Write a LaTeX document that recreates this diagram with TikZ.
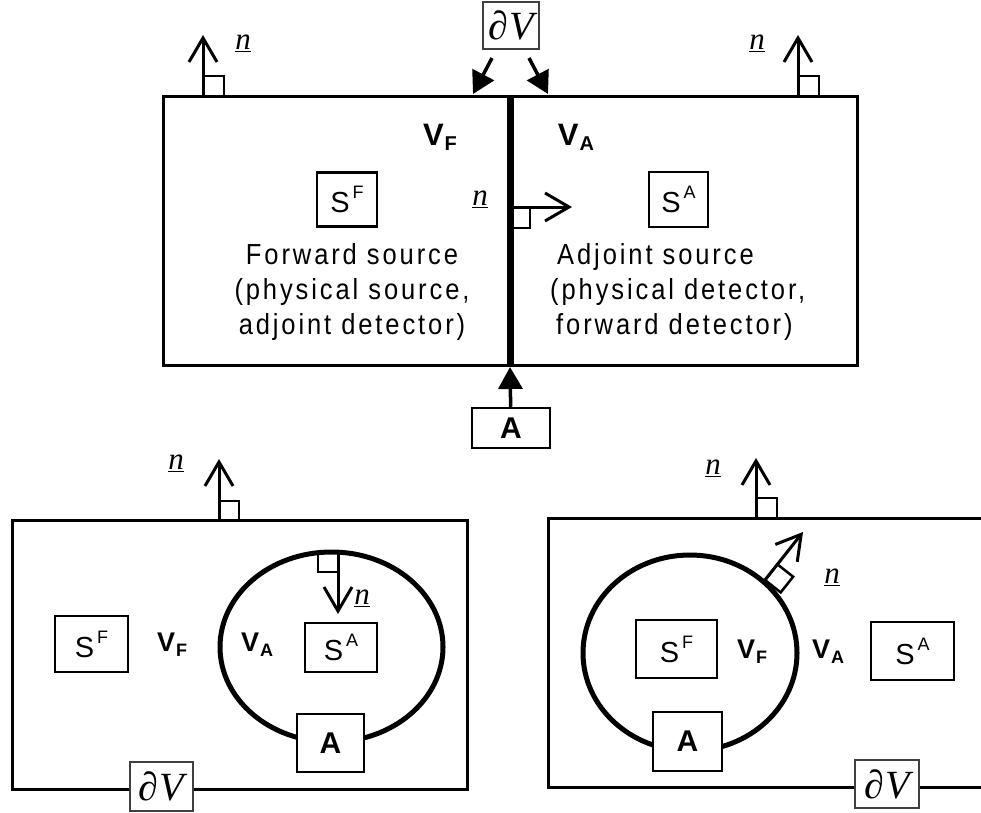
\documentclass[tikz,border=0pt]{standalone}
\usepackage{fontspec}
\setmainfont{Liberation Sans}
\newfontfamily\descfont[LetterSpace=10,FakeStretch=0.88]{Liberation Sans}
\newfontfamily\symfont{Liberation Serif}
\usepackage{tikz}
\usetikzlibrary{arrows.meta,calc}

\newcommand{\srcS}[1]{S\hspace{3pt}\raisebox{14pt}{\fontsize{18}{18}\selectfont #1}}
\newcommand{\volV}[2]{\textbf{V}\hspace{1pt}\raisebox{-5pt}{\fontsize{#2}{#2}\selectfont\bfseries #1}}
\newcommand{\nvec}{\underline{\itshape n\/}}
\newcommand{\bdry}{∂\kern1pt{\itshape V}}

\tikzset{
    wall/.style={line width=3pt},
    cut/.style={line width=7pt},
    loopline/.style={line width=5pt},
    srcbox/.style={draw, line width=2.5pt, inner sep=0pt, font=\fontsize{29}{29}\selectfont},
    abox/.style={draw, fill=white, line width=2.5pt, inner sep=0pt, font=\fontsize{30}{30}\selectfont\bfseries},
    dvbox/.style={draw=black!75, fill=white, line width=2pt, inner sep=0pt, font=\symfont\fontsize{40}{40}\selectfont},
    nlab/.style={inner sep=0pt, font=\symfont\fontsize{31}{31}\selectfont},
    vlab/.style={inner sep=0pt},
    desc/.style={inner sep=0pt, font=\descfont\fontsize{29}{35}\selectfont},
    normal/.style={line width=3pt, -{Straight Barb[length=24pt,width=28pt]}},
    corner/.style={line width=2.5pt},
    fillarrow/.style={line width=3.5pt, -{Triangle[length=22pt,width=24pt]}},
}

\begin{document}
\begin{tikzpicture}[x=1pt, y=-1pt]
    \useasboundingbox (0,0) rectangle (981,812);

    % (a) two volumes split by the cut
    \draw[wall] (163,96) rectangle (857,365);
    \draw[cut] (510,96) -- (510,365);

    % normals on the outer wall
    \draw[normal] (203,96) -- (203,35);
    \draw[corner] (203,96) rectangle (224,76);
    \node[nlab] (na1) at (243,43) {\nvec};
    \draw[normal] (798,96) -- (798,35);
    \draw[corner] (798,96) rectangle (819,76);
    \node[nlab] (na2) at (757,43) {\nvec};

    % normal on the cut
    \draw[normal] (510,207) -- (572,207);
    \draw[corner] (510,207) rectangle (530,228);
    \node[nlab] (na3) at (480,199) {\nvec};

    % boundary label
    \node[dvbox, minimum width=56pt, minimum height=47pt] (dva) at (511,25.5) {\bdry};
    \coordinate (dva1) at ($(dva.south)+(-19,8)$);
    \coordinate (dva2) at (473,94);
    \coordinate (dva3) at ($(dva.south)+(18,8)$);
    \coordinate (dva4) at (548,94);
    \draw[fillarrow] (dva1) -- (dva2);
    \draw[fillarrow] (dva3) -- (dva4);

    \node[vlab, font=\fontsize{31}{31}\selectfont] (vfa) at (440,137) {\volV{F}{20}};
    \node[vlab, font=\fontsize{31}{31}\selectfont] (vaa) at (576,137) {\volV{A}{20}};

    \node[srcbox, minimum width=60pt, minimum height=54pt] (sfa) at (347,199.5) {\srcS{F}};
    \node[srcbox, minimum width=59pt, minimum height=55pt] (saa) at (678.5,199.5) {\srcS{A}};

    \node[desc, align=center, anchor=north] (fwdtxt) at (352,243)
        {Forward source\\(physical source,\\adjoint detector)};
    \node[desc, align=left, anchor=north west] (adjtxt) at (550,243)
        {\hspace*{7pt}Adjoint source\\(physical detector,\\\hspace*{6pt}forward detector)};

    % adjoint surface label
    \node[abox, minimum width=78pt, minimum height=40pt] (aa) at (511,428) {A};
    \coordinate (aa1) at (510,367);
    \draw[fillarrow] (aa) -- (aa1);

    % (b) adjoint volume inside
    \draw[wall] (12,520) rectangle (467,789);
    \draw[loopline] (331.5,647) ellipse [x radius=111.5, y radius=95];

    \draw[normal] (219,520) -- (219,459);
    \draw[corner] (219,520) rectangle (239,501);
    \node[nlab] (nb1) at (176,463) {\nvec};

    \draw[normal] (338,553) -- (338,614);
    \draw[corner] (338,553) rectangle (318,572);
    \node[nlab] (nb2) at (362,598) {\nvec};

    \node[srcbox, minimum width=73pt, minimum height=56pt] (sfb) at (91.5,644) {\srcS{F}};
    \node[srcbox, minimum width=72pt, minimum height=49pt] (sab) at (341,647.5) {\srcS{A}};
    \node[vlab, font=\fontsize{27}{27}\selectfont] (vfb) at (172,645) {\volV{F}{18}};
    \node[vlab, font=\fontsize{27}{27}\selectfont] (vab) at (257,645) {\volV{A}{18}};

    \node[abox, minimum width=67pt, minimum height=58pt] (ab) at (330.5,743) {A};
    \node[dvbox, minimum width=63pt, minimum height=49pt] (dvb) at (161.5,786.5) {\bdry};

    % (c) forward volume inside
    \draw[wall] (981,518) -- (548,518) -- (548,787) -- (981,787);
    \draw[loopline] (690,653) ellipse [x radius=107, y radius=98];

    \draw[normal] (756,518) -- (756,458);
    \draw[corner] (756,518) rectangle (777,498);
    \node[nlab] (nc1) at (713,468) {\nvec};

    \draw[normal] (765,580) -- (803,532);
    \draw[corner] (765,580) -- (777.4,564.3) -- (793.1,576.7) -- (780.7,592.4) -- cycle;
    \node[nlab] (nc2) at (832,577) {\nvec};

    \node[srcbox, minimum width=81pt, minimum height=58pt] (sfc) at (676.5,649) {\srcS{F}};
    \node[srcbox, minimum width=83pt, minimum height=58pt] (sac) at (912.5,651) {\srcS{A}};
    \node[vlab, font=\fontsize{27}{27}\selectfont] (vfc) at (752,652) {\volV{F}{18}};
    \node[vlab, font=\fontsize{27}{27}\selectfont] (vac) at (828,652) {\volV{A}{18}};

    \node[abox, minimum width=69pt, minimum height=59pt] (ac) at (687.5,741.5) {A};
    \node[dvbox, minimum width=64pt, minimum height=48pt] (dvc) at (887,784) {\bdry};
\end{tikzpicture}
\end{document}
